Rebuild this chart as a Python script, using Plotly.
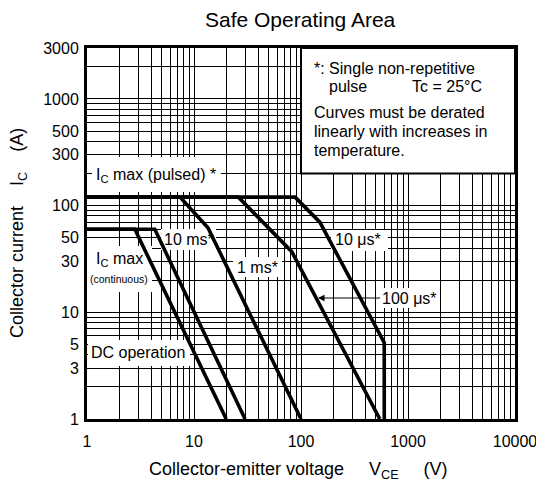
import math
import plotly.graph_objects as go

# ---- data ----
dc_v = [1, 2.8, 20]
dc_i = [60, 60, 1]

ms10_v = [1, 4.3, 30]
ms10_i = [60, 60, 1]

ms1_v = [1, 7.4, 13.5, 100]
ms1_i = [120, 120, 62, 1]

us100_v = [1, 26, 82, 545]
us100_i = [120, 120, 37, 1]

us10_v = [1, 88, 150, 600, 600]
us10_i = [120, 120, 70, 5.2, 1]

x_tick_labels = {1: "1", 10: "10", 100: "100", 1000: "1000", 10000: "10000"}
y_tick_labels = {1: "1", 3: "3", 5: "5", 10: "10", 30: "30", 50: "50", 100: "100",
                 300: "300", 500: "500", 1000: "1000", 3000: "3000"}

FONT = "Liberation Sans, Arial, Helvetica, sans-serif"

# grid values (1..9 per decade)
x_grid = [m * 10 ** k for k in range(0, 4) for m in range(1, 10)] + [10000]
y_grid = [m * 10 ** k for k in range(0, 3) for m in range(1, 10)] + [1000, 2000, 3000]

fig = go.Figure()
for v, i in [(dc_v, dc_i), (ms10_v, ms10_i), (ms1_v, ms1_i), (us100_v, us100_i), (us10_v, us10_i)]:
    fig.add_trace(go.Scatter(x=v, y=i, mode="lines",
                             line=dict(color="black", width=3.6),
                             hoverinfo="skip", showlegend=False))

# plot-area geometry in pixels
L, R, T, B = 87, 515, 48, 419
W, H = 536, 488
XMAX = 4.0
YMAX = math.log10(3000)


def pxx(x):
    return (x - L) / (R - L)


def pxy(y):
    return (B - y) / (B - T)


def dx(x):
    return 10 ** (pxx(x) * XMAX)


def dy(y):
    return 10 ** (pxy(y) * YMAX)


shapes = []
# white backgrounds behind labels (hide grid but not curves)
label_boxes = [
    (92, 221, 157, 192),   # Ic max (pulsed)
    (161, 216, 229, 250),  # 10 ms
    (87, 152, 246, 292),   # Ic max (continuous)
    (233, 282, 257, 277),  # 1 ms
    (331, 388, 230, 251),  # 10 us
    (379, 440, 288, 308),  # 100 us
    (88, 190, 340, 366),   # DC operation
]
for x0, x1, y0, y1 in label_boxes:
    shapes.append(dict(type="rect", xref="x", yref="y",
                       x0=dx(x0), x1=dx(x1), y0=dy(y1), y1=dy(y0),
                       fillcolor="white", line=dict(width=0), layer="between"))
# note box
shapes.append(dict(type="rect", xref="x", yref="y",
                   x0=100, x1=10000, y0=200, y1=3000,
                   fillcolor="white", line=dict(color="black", width=2), layer="between"))

ann = []


def label(text, x, y, size=16, xanchor="left"):
    ann.append(dict(text=text, xref="paper", yref="paper", x=pxx(x), y=pxy(y),
                    xanchor=xanchor, yanchor="middle", showarrow=False,
                    font=dict(family=FONT, size=size, color="black")))


label("I<sub>C</sub> max (pulsed) *", 94, 175)
label("10 ms*", 162, 240)
label("I<sub>C</sub> max", 94, 259)
label("(continuous)", 88, 279, size=10.5)
label("1 ms*", 235, 267)
label("10 μs*", 333, 240)
label("DC operation", 89, 352)
label("*: Single non-repetitive", 312, 68)
label("pulse", 327, 86)
label("Tc = 25°C", 410, 86)
label("Curves must be derated", 312, 113)
label("linearly with increases in", 312, 131)
label("temperature.", 312, 150)

# 100 us label with arrow to the curve
ann.append(dict(text="100 μs*", xref="paper", yref="paper", x=pxx(318), y=pxy(298),
                ax=91, ay=0, showarrow=True, arrowhead=2, arrowsize=1.3, arrowwidth=1,
                arrowcolor="black", xanchor="center", yanchor="middle",
                font=dict(family=FONT, size=16, color="black")))

# titles
ann.append(dict(text="Safe Operating Area", xref="paper", yref="paper",
                x=pxx(300), y=pxy(19), xanchor="center", yanchor="middle", showarrow=False,
                font=dict(family=FONT, size=21, color="black")))
ann.append(dict(text="Collector-emitter voltage\u00a0\u00a0\u00a0\u00a0\u00a0V<sub>CE</sub>\u00a0\u00a0\u00a0\u00a0\u00a0(V)",
                xref="paper", yref="paper", x=pxx(298), y=pxy(470),
                xanchor="center", yanchor="middle", showarrow=False,
                font=dict(family=FONT, size=18, color="black")))
ann.append(dict(text="Collector current\u00a0\u00a0\u00a0\u00a0I<sub>C</sub>\u00a0\u00a0\u00a0\u00a0(A)",
                xref="paper", yref="paper", x=pxx(18), y=pxy(233), textangle=-90,
                xanchor="center", yanchor="middle", showarrow=False,
                font=dict(family=FONT, size=18, color="black")))

fig.update_layout(
    width=W, height=H,
    margin=dict(l=L, r=W - R, t=T, b=H - B, pad=0, autoexpand=False),
    paper_bgcolor="white", plot_bgcolor="white",
    font=dict(family=FONT, size=16, color="black"),
    shapes=shapes, annotations=ann, showlegend=False,
)
fig.update_xaxes(type="log", range=[0, XMAX], automargin=False,
                 tickvals=x_grid, ticktext=[x_tick_labels.get(v, "") for v in x_grid],
                 showgrid=True, gridcolor="black", gridwidth=1.4, zeroline=False,
                 showline=True, mirror=True, linecolor="black", linewidth=3,
                 ticks="", tickfont=dict(size=16, family=FONT), ticklabelstandoff=6,
                 ticklabeloverflow="allow")
fig.update_yaxes(type="log", range=[0, YMAX], automargin=False,
                 tickvals=y_grid, ticktext=[y_tick_labels.get(v, "") for v in y_grid],
                 showgrid=True, gridcolor="black", gridwidth=1.4, zeroline=False,
                 showline=True, mirror=True, linecolor="black", linewidth=3,
                 ticks="", tickfont=dict(size=16, family=FONT), ticklabelstandoff=2,
                 ticklabeloverflow="allow")

fig.write_html("out.html", config={"displayModeBar": False},
               post_script="document.body.style.margin='0';")
